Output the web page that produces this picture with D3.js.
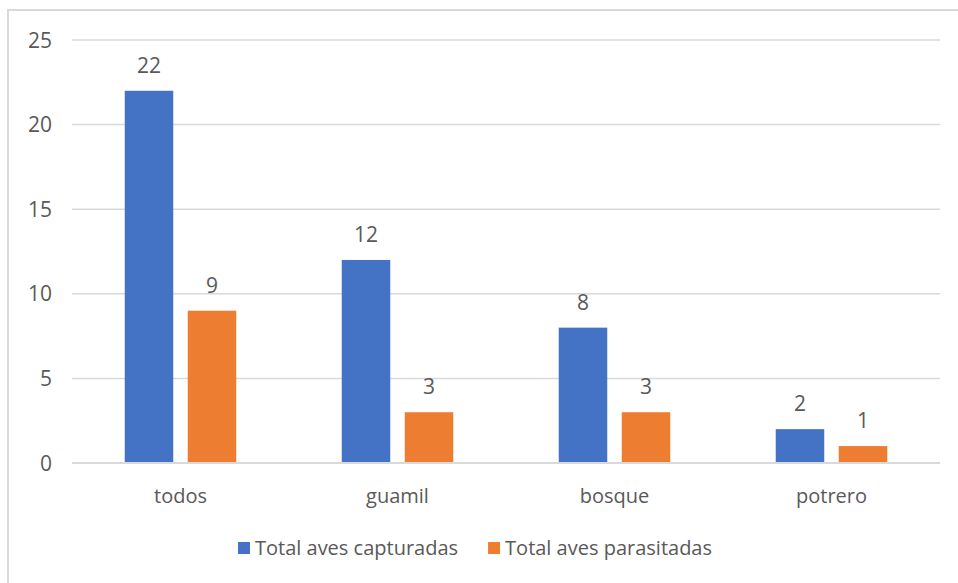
<!DOCTYPE html>
<html>
<head>
<meta charset="utf-8">
<script src="https://cdn.jsdelivr.net/npm/d3@7"></script>
<style>
  html, body { margin: 0; padding: 0; background: #fff; }
  svg { display: block; font-family: "Open Sans", "Segoe UI", sans-serif; }
</style>
</head>
<body>
<svg id="chart" width="958" height="583"></svg>
<script>
// Bird capture counts per habitat
const categories = ["todos", "guamil", "bosque", "potrero"];
const seriesNames = ["Total aves capturadas", "Total aves parasitadas"];
const capturadas = [22, 12, 8, 2];
const parasitadas = [9, 3, 3, 1];
const yTicks = [0, 5, 10, 15, 20, 25];

const colors = ["#4472c4", "#ed7d31"];
const textColor = "#595959";
const gridColor = "#d9d9d9";
const numSize = 21;
const labelSize = 20;

const svg = d3.select("#chart");
const W = 958, H = 583;
const plot = { left: 72, right: 940, top: 40, bottom: 463 };

// Outer frame
svg.append("rect")
  .attr("x", 8).attr("y", 10)
  .attr("width", W).attr("height", H)
  .attr("fill", "#fff")
  .attr("stroke", gridColor).attr("stroke-width", 2);

const x0 = d3.scaleBand()
  .domain(categories)
  .range([plot.left, plot.right])
  .paddingInner(0.486)
  .paddingOuter(0.243);

const x1 = d3.scaleBand()
  .domain(seriesNames)
  .range([0, x0.bandwidth()])
  .paddingInner(0.23);

const y = d3.scaleLinear().domain([0, 25]).range([plot.bottom, plot.top]);

// Horizontal gridlines
svg.append("g")
  .selectAll("line")
  .data(yTicks.filter(t => t > 0))
  .join("line")
  .attr("x1", plot.left).attr("x2", plot.right)
  .attr("y1", d => y(d)).attr("y2", d => y(d))
  .attr("stroke", gridColor).attr("stroke-width", 1.5);

// Y tick labels
svg.append("g")
  .selectAll("text")
  .data(yTicks)
  .join("text")
  .attr("x", 52)
  .attr("y", d => y(d))
  .attr("dy", "0.36em")
  .attr("text-anchor", "end")
  .attr("fill", textColor)
  .attr("font-size", numSize)
  .text(d => d);

// Bars
const rows = categories.map((c, i) => ({
  cat: c,
  values: [
    { name: seriesNames[0], value: capturadas[i], color: colors[0] },
    { name: seriesNames[1], value: parasitadas[i], color: colors[1] }
  ]
}));

const groups = svg.append("g")
  .selectAll("g")
  .data(rows)
  .join("g")
  .attr("transform", d => `translate(${x0(d.cat)},0)`);

groups.selectAll("rect")
  .data(d => d.values)
  .join("rect")
  .attr("x", d => x1(d.name))
  .attr("y", d => y(d.value))
  .attr("width", x1.bandwidth())
  .attr("height", d => y(0) - y(d.value))
  .attr("fill", d => d.color);

// Value labels
groups.selectAll("text")
  .data(d => d.values)
  .join("text")
  .attr("x", d => x1(d.name) + x1.bandwidth() / 2)
  .attr("y", d => y(d.value) - 18)
  .attr("text-anchor", "middle")
  .attr("fill", textColor)
  .attr("font-size", numSize)
  .text(d => d.value);

// Baseline axis
svg.append("line")
  .attr("x1", plot.left).attr("x2", plot.right)
  .attr("y1", y(0)).attr("y2", y(0))
  .attr("stroke", gridColor).attr("stroke-width", 2);

// Category labels
svg.append("g")
  .selectAll("text")
  .data(categories)
  .join("text")
  .attr("x", d => x0(d) + x0.bandwidth() / 2)
  .attr("y", 503)
  .attr("text-anchor", "middle")
  .attr("fill", textColor)
  .attr("font-size", labelSize)
  .text(d => d);

// Legend
const legend = svg.append("g");
const legendGap = 30;
let lx = 0;
seriesNames.forEach((name, i) => {
  const item = legend.append("g").attr("transform", `translate(${lx},0)`);
  item.append("rect")
    .attr("x", 0).attr("y", 542)
    .attr("width", 12).attr("height", 12)
    .attr("fill", colors[i]);
  const t = item.append("text")
    .attr("x", 17).attr("y", 555)
    .attr("fill", textColor)
    .attr("font-size", labelSize)
    .text(name);
  lx += 17 + t.node().getComputedTextLength() + legendGap;
});
const legendWidth = lx - legendGap;
legend.attr("transform", `translate(${475 - legendWidth / 2},0)`);
</script>
</body>
</html>
